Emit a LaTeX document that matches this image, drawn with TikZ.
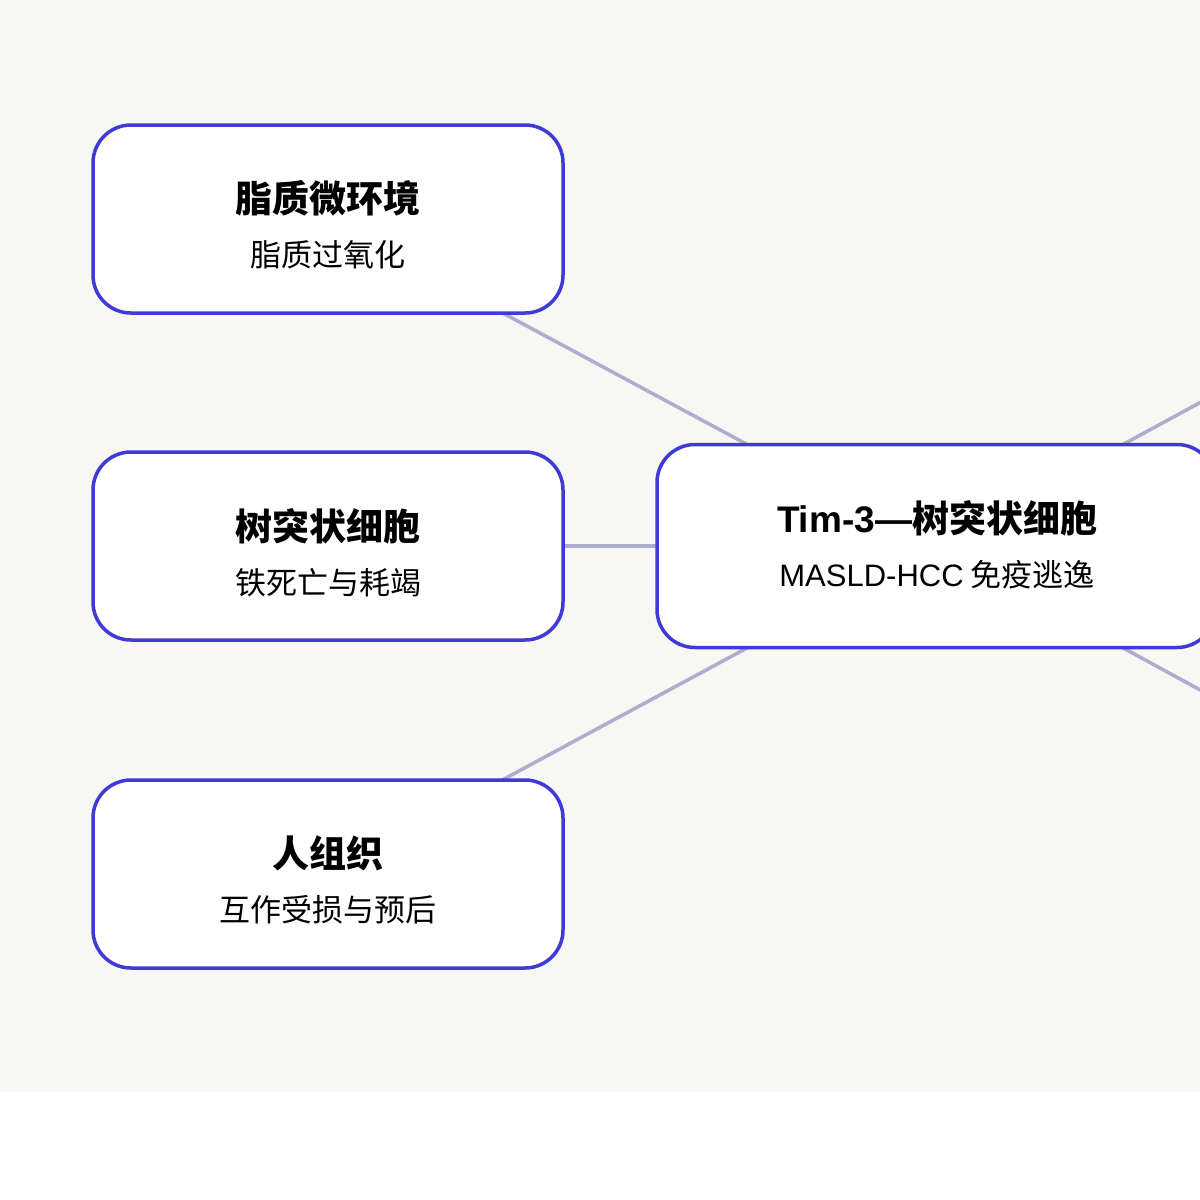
\documentclass[tikz,border=0pt]{standalone}
\usepackage{fontspec}
\setmainfont{Noto Sans CJK SC}
\newfontfamily\lat{Liberation Sans}
\definecolor{bg}{HTML}{F7F7F3}
\definecolor{bd}{HTML}{3F3AD6}
\definecolor{ln}{HTML}{ADADCF}
\begin{document}
\begin{tikzpicture}[x=1pt,y=-1pt,
 box/.style={draw=bd,line width=3.5pt,fill=white,rounded corners=38pt,minimum width=470pt,minimum height=188pt,align=center},
 conn/.style={draw=ln,line width=3.5pt}]
\useasboundingbox (0,0) rectangle (1200,1200);
\fill[white] (0,0) rectangle (1200,1200);
\fill[bg] (0,0) rectangle (1092,1092);
\fill[bg] (0,0) rectangle (1200,1092);
\begin{scope}
\clip (0,0) rectangle (1200,1200);
\coordinate (r1) at (1538,219);
\coordinate (r2) at (1538,874);
\coordinate (c) at (936,546);
\coordinate (a) at (328,219);
\coordinate (b) at (328,546);
\coordinate (d) at (328,874);
\draw[conn] (a)--(c);
\draw[conn] (b)--(c);
\draw[conn] (d)--(c);
\draw[conn] (c)--(r1);
\draw[conn] (c)--(r2);
\node[box] (n1) at (a) {};
\node[box] (n2) at (b) {};
\node[box] (n3) at (d) {};
\node[box,minimum width=558pt,minimum height=203pt] (n0) at (c) {};
\end{scope}
\tikzset{t/.style={font=\fontsize{37}{40}\selectfont\bfseries},s/.style={font=\fontsize{31}{34}\selectfont}}
\node[t] at (328,198) {脂质微环境};
\node[s] at (328,255) {脂质过氧化};
\node[t] at (328,526) {树突状细胞};
\node[s] at (328,583) {铁死亡与耗竭};
\node[t] at (328,853) {人组织};
\node[s] at (328,910) {互作受损与预后};
\node[t] at (937,518) {{\lat Tim-3—}树突状细胞};
\node[s] at (937,575) {{\lat MASLD-HCC} 免疫逃逸};
\end{tikzpicture}
\end{document}
